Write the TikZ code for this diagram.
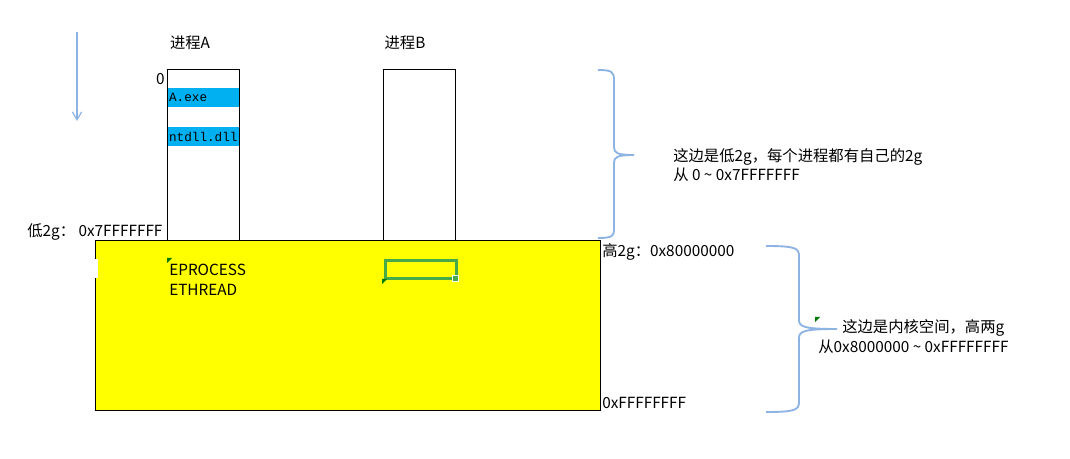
\documentclass[tikz,border=0pt]{standalone}
\usepackage{fontspec}
\setmainfont{Noto Sans CJK SC}
\setmonofont{Liberation Mono}
\usetikzlibrary{arrows.meta,positioning}
\definecolor{bandblue}{HTML}{00B0F0}
\definecolor{linkblue}{HTML}{8DB3E2}
\definecolor{kernyellow}{HTML}{FFFF00}
\definecolor{selgreen}{HTML}{46AA46}
\definecolor{markgreen}{HTML}{007A00}
\tikzset{
  memcol/.style={draw=black, fill=white, line width=0.75pt, anchor=north west, minimum width=54pt, minimum height=128.25pt, inner sep=0pt},
  kernbox/.style={draw=black, fill=kernyellow, line width=0.75pt, anchor=north west, minimum width=378.75pt, minimum height=127.5pt, inner sep=0pt},
  band/.style={fill=bandblue, anchor=north west, minimum width=53.25pt, minimum height=14.25pt, inner xsep=0.6pt, inner ysep=0pt, text width=52pt, align=left, font=\ttfamily\fontsize{9.5}{11}\selectfont},
  lbl/.style={inner sep=0pt, anchor=west, align=left, font=\fontsize{11.5}{14.25}\selectfont},
  selbox/.style={draw=selgreen, line width=2.25pt, anchor=north west, minimum width=53pt, minimum height=13.5pt, inner sep=0pt},
  curly/.style={draw=linkblue, line width=1.4pt},
  cornermark/.style={fill=markgreen},
  flowarrow/.style={-{Straight Barb[length=6pt, width=7pt]}, linkblue, line width=0.9pt},
}
\begin{document}
\begin{tikzpicture}[x=0.75pt, y=-0.75pt]
  \useasboundingbox (0,0) rectangle (1070,459);
  % user-mode columns
  \node[memcol] (procA) at (167,69) {};
  \node[memcol] (procB) at (383,69) {};
  \node[band] (exe) at (168,88) {A.exe};
  \node[band] (ntdll) at (168,127) {ntdll.dll};
  \node[lbl, anchor=center] (nameA) at (190,43) {进程A};
  \node[lbl, anchor=center] (nameB) at (405,43) {进程B};
  \node[lbl, anchor=east] (zero) at (165,79) {0};
  % kernel part
  \node[kernbox] (kernel) at (95,240) {};
  \fill[white] (94.4,259) rectangle (98,278);
  \node[lbl] (eproc) at (169,270) {EPROCESS};
  \node[lbl] (ethread) at (169,290) {ETHREAD};
  \fill[cornermark] (167,258) -- (172,258) -- (167,263) -- cycle;
  \node[selbox] (sel) at (384,259) {};
  \fill[cornermark] (382,279) -- (387,279) -- (382,284) -- cycle;
  \draw[white, fill=selgreen, line width=0.6pt] (452,275) rectangle (458,281);
  % addresses
  \node[lbl] (lowtop) at (27,232) {低2g： 0x7FFFFFFF};
  \node[lbl] (hightop) at (602,252) {高2g：0x80000000};
  \node[lbl] (highend) at (602,403) {0xFFFFFFFF};
  % arrow on the left
  \coordinate (arrtop) at (77,32);
  \coordinate (arrbot) at (77,121);
  \draw[flowarrow] (arrtop) -- (arrbot);
  % braces
  \draw[curly] (598,70) .. controls (612,70) and (614,72) .. (614,80) -- (614,147)
    .. controls (614,153) and (617,155) .. (634,155)
    .. controls (617,155) and (614,157) .. (614,163) -- (614,230)
    .. controls (614,236) and (612,238) .. (598,238);
  \draw[curly] (766,246) .. controls (795,246) and (799,248) .. (799,256) -- (799,320)
    .. controls (799,327) and (805,329) .. (837,329)
    .. controls (805,329) and (799,331) .. (799,338) -- (799,402)
    .. controls (799,410) and (795,412) .. (766,412);
  \node[lbl] (userinfo) at (673,165) {这边是低2g，每个进程都有自己的2g\\从 0 \textasciitilde{} 0x7FFFFFFF};
  \fill[cornermark] (815,317) -- (820,317) -- (815,322) -- cycle;
  \node[lbl] (kerninfo) at (842,328) {这边是内核空间，高两g};
  \node[lbl] (kernrange) at (818,347) {从0x8000000 \textasciitilde{} 0xFFFFFFFF};
\end{tikzpicture}
\end{document}
